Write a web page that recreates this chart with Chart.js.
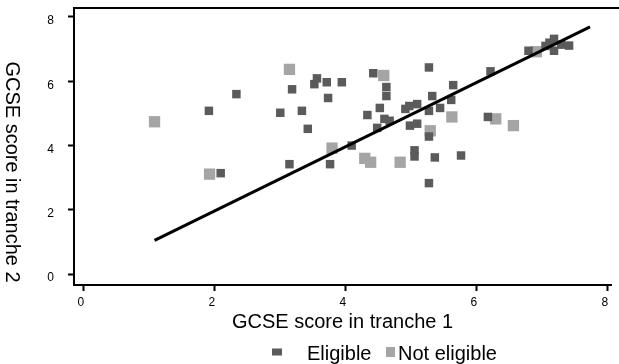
<!DOCTYPE html>
<html>
<head>
<meta charset="utf-8">
<script src="https://cdn.jsdelivr.net/npm/chart.js@4.4.1/dist/chart.umd.min.js"></script>
<style>
  body { margin: 0; background: #fff; }
  #wrap { width: 619px; height: 364px; position: relative; }
</style>
</head>
<body>
<div id="wrap"><canvas id="gcseChart"></canvas></div>
<script>
var xTicks = [0, 2, 4, 6, 8];
var yTicks = [0, 2, 4, 6, 8];

// Puntuaciones de alumnos elegibles (tramo 1, tramo 2)
var eligibleX = [1.91, 2.33, 2.09, 3.00, 3.14, 3.18, 3.33, 3.42, 3.52, 3.56, 3.71, 3.73, 3.76, 3.94,
                 4.09, 4.33, 4.42, 4.48, 4.52, 4.59, 4.62, 4.62, 4.67, 4.91, 4.97, 4.98, 5.05, 5.05,
                 5.09, 5.09, 5.27, 5.27, 5.27, 5.27, 5.32, 5.36, 5.44, 5.61, 5.64, 5.76, 6.17, 6.21,
                 6.79, 7.05, 7.11, 7.18, 7.18, 7.29, 7.41];
var eligibleY = [5.08, 5.60, 3.14, 5.02, 3.42, 5.75, 5.08, 4.52, 5.91, 6.09, 5.97, 5.48, 3.42, 5.97,
                 4.00, 4.95, 6.25, 4.55, 5.17, 4.83, 5.82, 5.54, 4.77, 5.14, 5.23, 4.62, 3.85, 3.66,
                 5.29, 4.68, 6.43, 5.08, 4.28, 2.83, 5.54, 3.63, 5.17, 5.42, 5.88, 3.69, 4.89, 6.31,
                 6.95, 7.10, 7.20, 7.32, 6.95, 7.14, 7.11];

// Alumnos no elegibles
var notEligibleX = [1.08, 1.92, 3.14, 3.79, 4.29, 4.38, 4.58, 4.83, 5.29, 5.62, 6.29, 6.56, 6.91];
var notEligibleY = [4.74, 3.11, 6.37, 3.92, 3.60, 3.48, 6.18, 3.48, 4.46, 4.89, 4.83, 4.62, 6.92];

// Recta de ajuste
var fitX = [1.08, 7.73];
var fitY = [1.05, 7.69];

var fuente = '"Liberation Sans", Arial, sans-serif';

function toPoints(xs, ys) {
    return xs.map(function (x, i) { return { x: x, y: ys[i] }; });
}

var extras = {
    id: 'extras',
    afterDraw: function (chart) {
        var ctx = chart.ctx;
        var area = chart.chartArea;
        ctx.save();
        // borde superior
        ctx.strokeStyle = '#000';
        ctx.lineWidth = 2;
        ctx.beginPath();
        ctx.moveTo(area.left - 1, area.top);
        ctx.lineTo(chart.width, area.top);
        ctx.stroke();

        // titulo del eje y, girado en sentido horario
        ctx.save();
        ctx.translate(12, 172);
        ctx.rotate(Math.PI / 2);
        ctx.font = '20px ' + fuente;
        ctx.fillStyle = '#000';
        ctx.textAlign = 'center';
        ctx.textBaseline = 'middle';
        ctx.fillText('GCSE score in tranche 2', 0, 0);
        ctx.restore();

        // leyenda
        var items = [
            { ds: chart.data.datasets[1], x: 272, w: 10, h: 7, tx: 307 },
            { ds: chart.data.datasets[2], x: 386, w: 9, h: 10, tx: 398 }
        ];
        ctx.font = '20px ' + fuente;
        ctx.textAlign = 'left';
        ctx.textBaseline = 'alphabetic';
        items.forEach(function (it) {
            ctx.fillStyle = it.ds.backgroundColor;
            ctx.fillRect(it.x, 352 - it.h / 2, it.w, it.h);
            ctx.fillStyle = '#000';
            ctx.fillText(it.ds.label, it.tx, 360);
        });
        ctx.restore();
    }
};

var ctxGcse = document.getElementById('gcseChart').getContext('2d');
var chartGcse = new Chart(ctxGcse, {
    type: 'scatter',
    data: {
        datasets: [{
            type: 'line',
            label: 'Fit',
            data: toPoints(fitX, fitY),
            borderColor: '#000',
            borderWidth: 3,
            pointRadius: 0,
            fill: false
        }, {
            label: 'Eligible',
            data: toPoints(eligibleX, eligibleY),
            backgroundColor: '#5b5b5b',
            borderWidth: 0,
            pointStyle: 'rect',
            pointRadius: 6
        }, {
            label: 'Not eligible',
            data: toPoints(notEligibleX, notEligibleY),
            backgroundColor: '#a5a5a5',
            borderWidth: 0,
            pointStyle: 'rect',
            pointRadius: 8
        }]
    },
    options: {
        responsive: true,
        maintainAspectRatio: false,
        animation: false,
        layout: { padding: { top: 5, right: 3, left: 0, bottom: 0 } },
        plugins: {
            legend: { display: false },
            tooltip: { enabled: false }
        },
        scales: {
            x: {
                type: 'linear',
                min: -0.15,
                max: 8.05,
                afterBuildTicks: function (scale) {
                    scale.ticks = xTicks.map(function (v) { return { value: v }; });
                },
                afterFit: function (scale) {
                    scale.height = 79;
                    scale.paddingLeft = 0;
                    scale.paddingRight = 0;
                },
                grid: { drawOnChartArea: false, drawTicks: true, tickLength: 6, color: '#000', tickWidth: 2 },
                border: { display: true, color: '#000', width: 2 },
                ticks: { color: '#000', font: { family: fuente, size: 12 }, padding: 4, labelOffset: -3, maxRotation: 0 },
                title: {
                    display: true,
                    text: 'GCSE score in tranche 1',
                    color: '#000',
                    font: { family: fuente, size: 20 },
                    padding: { top: 0, bottom: 30 }
                }
            },
            y: {
                type: 'linear',
                min: -0.34,
                max: 8.28,
                afterBuildTicks: function (scale) {
                    scale.ticks = yTicks.map(function (v) { return { value: v }; });
                },
                afterFit: function (scale) {
                    scale.width = 74;
                    scale.paddingTop = 0;
                    scale.paddingBottom = 0;
                },
                grid: { drawOnChartArea: false, drawTicks: true, tickLength: 6, color: '#000', tickWidth: 2 },
                border: { display: true, color: '#000', width: 2 },
                ticks: { color: '#000', font: { family: fuente, size: 12 }, padding: 14, labelOffset: 4 }
            }
        }
    },
    plugins: [extras]
});
</script>
</body>
</html>
